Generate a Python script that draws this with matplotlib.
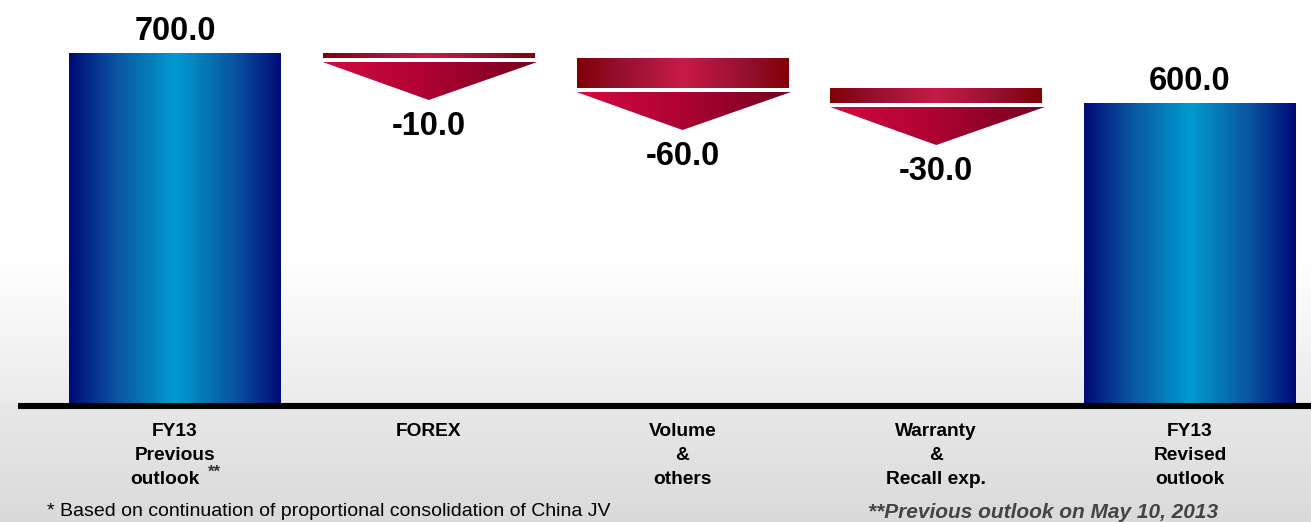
import numpy as np
import matplotlib.pyplot as plt
from matplotlib.colors import LinearSegmentedColormap
from matplotlib.patches import Rectangle, Polygon

plt.rcParams['font.family'] = ['Liberation Sans', 'DejaVu Sans']

categories = [["FY13", "Previous", "outlook"], ["FOREX"], ["Volume", "&", "others"],
              ["Warranty", "&", "Recall exp."], ["FY13", "Revised", "outlook"]]
values = [700.0, -10.0, -60.0, -30.0, 600.0]
kinds = ["total", "delta", "delta", "delta", "total"]
value_labels = ["700.0", "-10.0", "-60.0", "-30.0", "600.0"]
note_left = "* Based on continuation of proportional consolidation of China JV"
note_right = "**Previous outlook on May 10, 2013"

blue = LinearSegmentedColormap.from_list(
    "blue", [(0, "#000a78"), (0.22, "#0a55a0"), (0.5, "#009bcf"),
             (0.78, "#0a55a0"), (1, "#000a78")])
darkred = LinearSegmentedColormap.from_list(
    "dred", [(0, "#800005"), (0.2, "#951030"), (0.5, "#c81a48"),
             (0.8, "#951030"), (1, "#800005")])
arrowred = LinearSegmentedColormap.from_list(
    "ared", [(0, "#d40a40"), (0.45, "#b00333"), (1, "#760020")])
bgmap = LinearSegmentedColormap.from_list(
    "bg", [(0, "#ffffff"), (0.64, "#ffffff"), (1, "#ebebeb")])
lowmap = LinearSegmentedColormap.from_list("low", ["#e8e8e8", "#dadada"])

fig = plt.figure(figsize=(13.11, 5.22), dpi=100)
ax = fig.add_axes([0, 0, 1, 1])
step = 253.75
ax.set_xlim(-175 / step, (1311 - 175) / step)
ax.set_ylim(-238, 806)
ax.axis("off")

# background (imshow row 0 is drawn at the top)
grad = np.linspace(0, 1, 256).reshape(-1, 1)
ax.imshow(grad, cmap=bgmap, aspect="auto", extent=[-1, 5, 0, 806], zorder=0)
ax.imshow(grad, cmap=lowmap, aspect="auto", extent=[-1, 5, -238, 0], zorder=0)

w = 212 / step
hgrad = np.linspace(0, 1, 256).reshape(1, -1)


def grad_rect(x0, y0, x1, y1, cmap):
    r = Rectangle((x0, y0), x1 - x0, y1 - y0, fc="none", ec="none")
    ax.add_patch(r)
    im = ax.imshow(hgrad, cmap=cmap, aspect="auto", extent=[x0, x1, y0, y1], zorder=2)
    im.set_clip_path(r)


running = 0.0
for i, (v, k, lab) in enumerate(zip(values, kinds, value_labels)):
    x0, x1 = i - w / 2, i + w / 2
    if k == "total":
        grad_rect(x0, 0, x1, v, blue)
        running = v
        ax.text(i, v + 12, lab, ha="center", va="bottom", fontsize=23.5,
                fontweight="bold", zorder=4)
    else:
        top, bot = running, running + v
        grad_rect(x0, bot, x1, top, darkred)
        a_top = bot - 8
        a_tip = a_top - 76
        tri = Polygon([(x0, a_top), (x1 + 0.01, a_top), (i, a_tip)], closed=True,
                      fc="none", ec="none")
        ax.add_patch(tri)
        im = ax.imshow(hgrad, cmap=arrowred, aspect="auto",
                       extent=[x0, x1 + 0.01, a_tip, a_top], zorder=2)
        im.set_clip_path(tri)
        ax.text(i, a_tip - 22, lab, ha="center", va="top", fontsize=23.5,
                fontweight="bold", zorder=4)
        running = bot

# baseline
ax.plot([(18 - 175) / step, 5], [-5, -5], color="black", lw=4.4,
        solid_capstyle="butt", zorder=3)

for i, lines in enumerate(categories):
    for j, line in enumerate(lines):
        xx = i
        if i == 0 and j == 2:
            xx = i - 10 / step  # leave room for the "**" mark
        ax.text(xx, -56 - 48 * j, line, ha="center", va="center", fontsize=13.8,
                fontweight="bold", zorder=4)
ax.text((208 - 175) / step, -124, "**", ha="left", va="top", fontsize=12,
        fontweight="bold", color="#333333")

ax.text((47 - 175) / step, -218, note_left, ha="left", va="center", fontsize=14)
ax.text((1218 - 175) / step, -218, note_right, ha="right", va="center", fontsize=15,
        fontweight="bold", fontstyle="italic", color="#444444")

fig.savefig("out.png", dpi=100)
